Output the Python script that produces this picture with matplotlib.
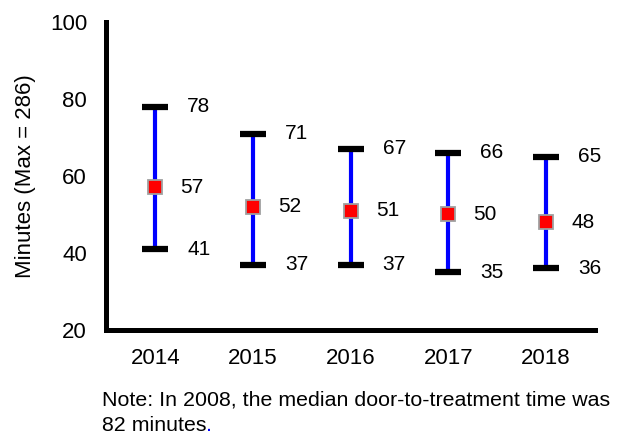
import numpy as np
import matplotlib
matplotlib.use('Agg')
import matplotlib.pyplot as plt

plt.rcParams['font.family'] = ['Liberation Sans', 'DejaVu Sans']

#Data
years = ['2014', '2015', '2016', '2017', '2018']
upper = [78, 71, 67, 66, 65]
median = [57, 52, 51, 50, 48]
lower = [41, 37, 37, 35, 36]

fig = plt.figure(figsize=(6.19, 4.36), dpi=100)
ax = fig.add_axes([0.172, 0.243, 0.789, 0.707])

x = np.arange(len(years))
med = np.array(median)
yerr = [med - np.array(lower), np.array(upper) - med]

eb = ax.errorbar(x, med, yerr=yerr, fmt='none', ecolor='#0000ff', elinewidth=3,
                 capsize=9.7, capthick=4.5, zorder=2)
for cap in eb[1]:
  cap.set_markeredgecolor('black')
  cap.set_markerfacecolor('black')
  cap.set_zorder(3)
ax.plot(x, med, 's', color='#ff0000', markersize=10.5, markeredgecolor='#a0a0a0',
        markeredgewidth=1.3, zorder=4)

#value labels
for i in range(len(years)):
  ax.annotate(str(upper[i]), (x[i], upper[i]), xytext=(23, 0), textcoords='offset points',
              va='center', ha='left', fontsize=15)
  ax.annotate(str(lower[i]), (x[i], lower[i]), xytext=(23, 0), textcoords='offset points',
              va='center', ha='left', fontsize=15)
  ax.annotate(str(median[i]), (x[i], median[i]), xytext=(18, 0), textcoords='offset points',
              va='center', ha='left', fontsize=15)

ax.set_xlim(-0.5, 4.5)
ax.set_ylim(20, 100)
ax.set_yticks([20, 40, 60, 80, 100])
ax.set_xticks(x)
ax.set_xticklabels(years)
ax.tick_params(axis='both', length=0, labelsize=16)
ax.tick_params(axis='y', pad=14)
ax.tick_params(axis='x', pad=13)
ax.set_ylabel('Minutes (Max = 286)', fontsize=16, labelpad=10)

for s in ['top', 'right']:
  ax.spines[s].set_visible(False)
for s in ['left', 'bottom']:
  ax.spines[s].set_linewidth(3.6)
  ax.spines[s].set_capstyle('projecting')

#note under the chart
t1 = fig.text(102/619, 1-400/436, 'Note: In 2008, the median door-to-treatment time was',
              fontsize=15.4, va='center', ha='left')
t2 = fig.text(102/619, 1-425/436, '82 minutes', fontsize=15.4, va='center', ha='left')
ax.annotate('.', xy=(1, 0), xycoords=t2, va='bottom', ha='left', fontsize=15.4, color='#0000ff')

fig.savefig('out.png', dpi=100)
